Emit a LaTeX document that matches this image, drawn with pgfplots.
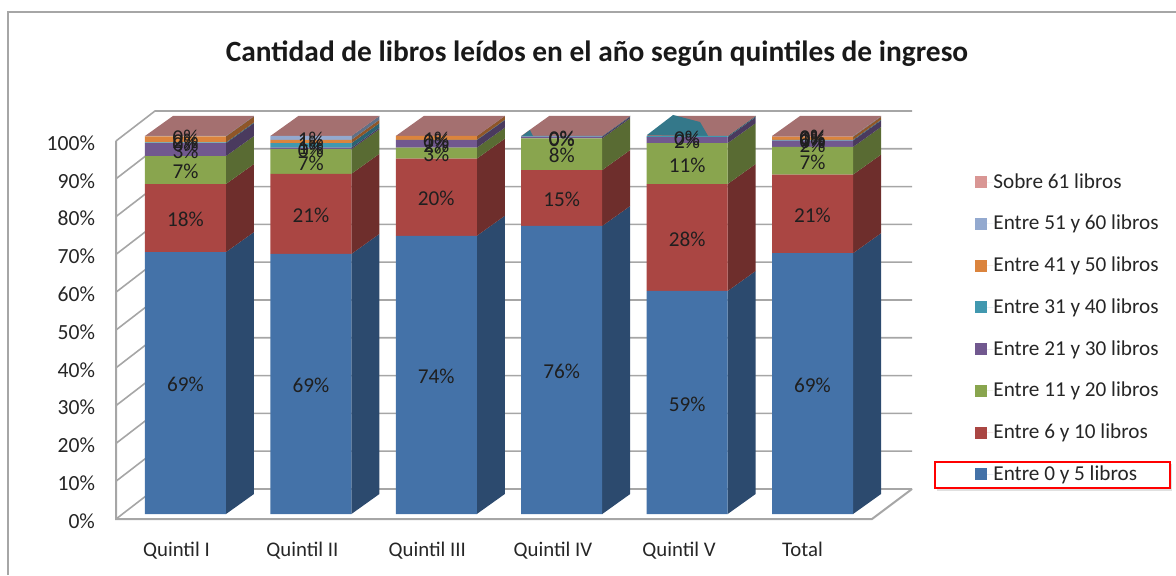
\documentclass[border=0pt]{standalone}
\usepackage{pgfplots}
\pgfplotsset{compat=1.18}
\usepackage{fontspec}
\setmainfont{Carlito}
\definecolor{fBlue}{HTML}{4472A8}\definecolor{sBlue}{HTML}{2C4A6E}
\definecolor{fRed}{HTML}{AA4643}\definecolor{sRed}{HTML}{6E2E2C}
\definecolor{fGreen}{HTML}{89A54E}\definecolor{sGreen}{HTML}{596B33}
\definecolor{fPurple}{HTML}{71588F}\definecolor{sPurple}{HTML}{4A3A5E}
\definecolor{fTeal}{HTML}{4198AF}\definecolor{sTeal}{HTML}{2B6372}
\definecolor{fOrange}{HTML}{DB843D}\definecolor{sOrange}{HTML}{8F5628}
\definecolor{fLight}{HTML}{93A9CF}\definecolor{sLight}{HTML}{607087}
\definecolor{fPink}{HTML}{D99694}\definecolor{sPink}{HTML}{8D6160}
\definecolor{topPink}{HTML}{A47070}
\definecolor{wall}{HTML}{A6A6A6}
\definecolor{txt}{HTML}{262626}
\pgfplotstableread{
x  a    b    c    d    e    f    g    h
0  69.3 18.0 7.4  3.4  0.2  1.6  0.1  0.0
1  68.8 21.2 6.5  0.4  1.2  0.9  1.0  0.0
2  73.6 20.4 2.9  2.0  0.1  1.0  0.0  0.0
3  76.2 14.8 8.4  0.4  0.2  0.0  0.0  0.0
4  59.0 28.3 10.8 1.6  0.3  0.0  0.0  0.0
5  69.0 20.8 7.3  1.7  0.2  0.8  0.1  0.1
}\datatable
\newcommand\gridl[2]{\addplot[wall,line width=0.8pt] coordinates {(-0.554,#1)(-0.243,#2)(5.793,#2)};}
\def\cum{0}
\newcommand\sideseg[3]{%
 \pgfmathsetmacro\nxt{\cum+#3}%
 \pgfmathsetmacro\xa{#2+0.323}\pgfmathsetmacro\xb{#2+0.546}%
 \pgfmathsetmacro\la{\cum+5.29}\pgfmathsetmacro\ha{\nxt+5.29}%
 \edef\tmp{\noexpand\addplot[fill=#1,draw=none] coordinates {(\xa,\cum)(\xb,\la)(\xb,\ha)(\xa,\nxt)};}\tmp
 \global\let\cum\nxt}
\newcommand\barsides[9]{%
 \gdef\cum{0}%
 \sideseg{sBlue}{#1}{#2}\sideseg{sRed}{#1}{#3}\sideseg{sGreen}{#1}{#4}\sideseg{sPurple}{#1}{#5}%
 \sideseg{sTeal}{#1}{#6}\sideseg{sOrange}{#1}{#7}\sideseg{sLight}{#1}{#8}\sideseg{sPink}{#1}{#9}%
 \pgfmathsetmacro\xa{#1-0.323}\pgfmathsetmacro\xc{#1-0.1}\pgfmathsetmacro\xb{#1+0.546}\pgfmathsetmacro\xd{#1+0.323}%
 \edef\tmp{\noexpand\addplot[fill=topPink,draw=none] coordinates {(\xa,100)(\xc,105.29)(\xb,105.29)(\xd,100)};}\tmp}
\pgfplotsset{base/.style={
  at={(58pt,28pt)},anchor=south west,scale only axis,width=398pt,height=205pt,
  xmin=-0.554,xmax=5.793,ymin=-1.32,ymax=107.14,clip=false,
  axis line style={draw=none},tick style={draw=none},major tick length=0pt,
  ticklabel style={text=txt}}}
\begin{document}
\begin{tikzpicture}[x=1pt,y=1pt]
\useasboundingbox (0,0) rectangle (588,287.5);
\draw[wall,line width=0.8pt] (4,0) -- (4,281.5) -- (588,281.5);
\node[font=\bfseries\fontsize{14.7}{17}\selectfont,text=black!90,anchor=center] at (298.5,260.5) {Cantidad de libros leídos en el año según quintiles de ingreso};
\fill[black!12] (468.5,42) rectangle (586,55.5);
\fill[white] (467.5,43.5) rectangle (585,56.5);
\draw[red,line width=0.8pt] (467.5,43.5) rectangle (585,56.5);
\begin{axis}[base,
  ytick={-1.32,8.68,18.68,28.68,38.68,48.68,58.68,68.68,78.68,88.68,98.68},
  yticklabels={0\%,10\%,20\%,30\%,40\%,50\%,60\%,70\%,80\%,90\%,100\%},
  yticklabel style={font=\fontsize{10.8}{12}\selectfont,xshift=-7pt,yshift=-1pt},
  xtick={-0.072,0.932,1.928,2.93,3.935,4.92},
  xticklabels={Quintil I,Quintil II,Quintil III,Quintil IV,Quintil V,Total},
  xticklabel style={font=\fontsize{10.4}{12}\selectfont,yshift=-8pt},
]
\gridl{8.68}{16.62}\gridl{18.68}{26.62}\gridl{28.68}{36.62}\gridl{38.68}{46.62}\gridl{48.68}{56.62}
\gridl{58.68}{66.62}\gridl{68.68}{76.62}\gridl{78.68}{86.62}\gridl{88.68}{96.62}\gridl{98.68}{106.62}
\addplot[wall,line width=1pt] coordinates {(-0.554,98.68)(-0.554,-1.32)(5.474,-1.32)(5.793,6.62)};
\addplot[wall,line width=0.8pt] coordinates {(-0.554,-1.32)(-0.243,6.62)(5.793,6.62)};
\barsides{0}{69.3}{18.0}{7.4}{3.4}{0.2}{1.6}{0.1}{0.0}
\barsides{1}{68.8}{21.2}{6.5}{0.4}{1.2}{0.9}{1.0}{0.0}
\barsides{2}{73.6}{20.4}{2.9}{2.0}{0.1}{1.0}{0.0}{0.0}
\barsides{3}{76.2}{14.8}{8.4}{0.4}{0.2}{0.0}{0.0}{0.0}
\barsides{4}{59.0}{28.3}{10.8}{1.6}{0.3}{0.0}{0.0}{0.0}
\barsides{5}{69.0}{20.8}{7.3}{1.7}{0.2}{0.8}{0.1}{0.1}
\addplot[fill=sTeal!60!fTeal,draw=none] coordinates {(3.68,100.26)(3.888,105.56)(4.103,103.7)(4.167,100)};
\addplot[fill=sTeal!60!fTeal,draw=none] coordinates {(2.683,100)(2.747,101.6)(2.77,100)};
\end{axis}
\begin{axis}[base,ybar stacked,bar width=0.646,xtick=\empty,ytick=\empty,
  visualization depends on=rawy \as \rawy,
  nodes near coords={\pgfmathprintnumber[fixed,precision=0,assume math mode=true]{\rawy}\%},
  every node near coord/.append style={anchor=center,text=black!88,font=\fontsize{10.6}{12}\selectfont,yshift=-0.75pt},
  legend image code/.code={\fill[#1] (0pt,-3pt) rectangle (6pt,3pt);\path (0pt,0pt) -- (9pt,0pt);},
  reverse legend,
  legend style={draw=none,fill=none,at={(426.5pt,175pt)},anchor=north west,font=\fontsize{10.6}{12}\selectfont,row sep=12pt,
    nodes={inner sep=0pt,text=txt},legend cell align=left},
]
\addplot[fill=fBlue,draw=none] table[x=x,y=a] {\datatable};
\addplot[fill=fRed,draw=none] table[x=x,y=b] {\datatable};
\addplot[fill=fGreen,draw=none] table[x=x,y=c] {\datatable};
\addplot[fill=fPurple,draw=none] table[x=x,y=d] {\datatable};
\addplot[fill=fTeal,draw=none] table[x=x,y=e] {\datatable};
\addplot[fill=fOrange,draw=none] table[x=x,y=f] {\datatable};
\addplot[fill=fLight,draw=none] table[x=x,y=g] {\datatable};
\addplot[fill=fPink,draw=none] table[x=x,y=h] {\datatable};
\legend{Entre 0 y 5 libros,Entre 6 y 10 libros,Entre 11 y 20 libros,Entre 21 y 30 libros,Entre 31 y 40 libros,Entre 41 y 50 libros,Entre 51 y 60 libros,Sobre 61 libros}
\end{axis}
\end{tikzpicture}
\end{document}
